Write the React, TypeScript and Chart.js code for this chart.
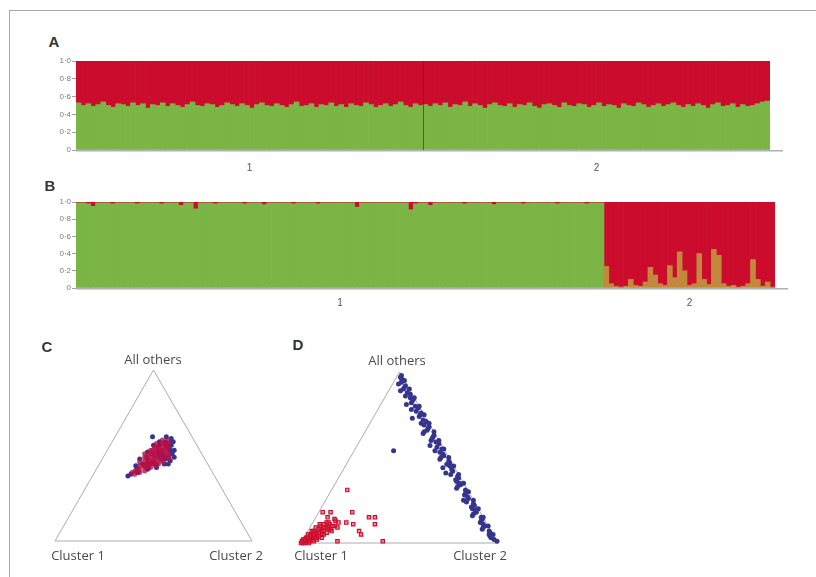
import React, { useEffect, useRef } from 'react';
import { Chart, registerables } from 'chart.js';
Chart.register(...registerables);

// ---------- DATA ----------
// Panel A: proportion of ancestry assigned to the green cluster, per individual
const A_GREEN_POP1 = [
  0.53, 0.50, 0.52, 0.49, 0.51, 0.54, 0.50, 0.48, 0.52, 0.51,
  0.49, 0.53, 0.50, 0.52, 0.47, 0.51, 0.50, 0.53, 0.49, 0.52,
  0.50, 0.48, 0.51, 0.54, 0.50, 0.49, 0.52, 0.51, 0.48, 0.50,
  0.53, 0.51, 0.49, 0.52, 0.50, 0.47, 0.51, 0.53, 0.50, 0.49,
  0.52, 0.50, 0.48, 0.51, 0.54, 0.49, 0.50, 0.52, 0.48, 0.51,
  0.50, 0.53, 0.49, 0.51, 0.48, 0.52, 0.50, 0.49, 0.53, 0.51,
  0.48, 0.50, 0.52, 0.49, 0.51, 0.54, 0.50, 0.48, 0.52, 0.50,
];
const A_GREEN_POP2 = [
  0.51, 0.49, 0.52, 0.50, 0.53, 0.48, 0.51, 0.50, 0.54, 0.49,
  0.52, 0.50, 0.47, 0.51, 0.53, 0.50, 0.49, 0.52, 0.48, 0.51,
  0.50, 0.53, 0.49, 0.47, 0.51, 0.52, 0.50, 0.48, 0.53, 0.50,
  0.49, 0.52, 0.51, 0.48, 0.50, 0.53, 0.49, 0.51, 0.50, 0.47,
  0.52, 0.50, 0.49, 0.53, 0.51, 0.48, 0.50, 0.52, 0.49, 0.51,
  0.53, 0.50, 0.48, 0.51, 0.49, 0.52, 0.50, 0.47, 0.51, 0.53,
  0.49, 0.50, 0.52, 0.48, 0.51, 0.49, 0.50, 0.52, 0.54, 0.55,
];
// Panel B
const B_GREEN_POP1 = [
  0.99, 0.99, 0.98, 0.95, 0.99, 0.99, 0.99, 0.98, 0.99,
  0.99, 0.99, 0.99, 0.98, 0.99, 0.99, 0.99, 0.99, 0.98,
  0.99, 0.99, 0.99, 0.96, 0.99, 0.99, 0.92, 0.99, 0.99,
  0.99, 0.98, 0.99, 0.99, 0.99, 0.99, 0.99, 0.98, 0.99,
  0.99, 0.99, 0.97, 0.99, 0.99, 0.99, 0.99, 0.99, 0.98,
  0.99, 0.99, 0.99, 0.99, 0.98, 0.99, 0.99, 0.99, 0.99,
  0.99, 0.99, 0.99, 0.94, 0.99, 0.99, 0.99, 0.99, 0.99,
  0.99, 0.99, 0.99, 0.99, 0.99, 0.91, 0.98, 0.99, 0.99,
  0.96, 0.99, 0.99, 0.99, 0.99, 0.99, 0.99, 0.98, 0.99,
  0.99, 0.99, 0.99, 0.99, 0.97, 0.99, 0.99, 0.99, 0.99,
  0.99, 0.98, 0.99, 0.99, 0.99, 0.99, 0.99, 0.99, 0.98,
  0.99, 0.99, 0.99, 0.99, 0.99, 0.98, 0.99, 0.99, 0.99,
];
const B_GREEN_POP2 = [
  0.25, 0.05, 0.02, 0.01, 0.02, 0.10, 0.03, 0.02, 0.07, 0.24,
  0.15, 0.05, 0.03, 0.26, 0.12, 0.42, 0.20, 0.03, 0.05, 0.40,
  0.10, 0.04, 0.45, 0.38, 0.05, 0.02, 0.03, 0.01, 0.02, 0.05,
  0.33, 0.10, 0.02, 0.07, 0.01,
];
const POP_LABELS = ['1', '2'];
const Y_TICKS = [0, 0.2, 0.4, 0.6, 0.8, 1.0];

// Panels C and D: [Cluster 2 proportion, All others proportion]
const C_RED = [
  [0.20, 0.41], [0.22, 0.42], [0.24, 0.43], [0.21, 0.44], [0.23, 0.45], [0.26, 0.45], [0.28, 0.46], [0.22, 0.47], [0.25, 0.47], [0.30, 0.47],
  [0.21, 0.49], [0.24, 0.49], [0.27, 0.49], [0.31, 0.49], [0.23, 0.51], [0.26, 0.51], [0.29, 0.51], [0.33, 0.50], [0.22, 0.53], [0.25, 0.53],
  [0.28, 0.53], [0.31, 0.52], [0.24, 0.55], [0.27, 0.55], [0.30, 0.55], [0.23, 0.57], [0.26, 0.57], [0.29, 0.57], [0.25, 0.59], [0.28, 0.59],
  [0.19, 0.40], [0.21, 0.39], [0.23, 0.40], [0.25, 0.41], [0.20, 0.46], [0.27, 0.43], [0.29, 0.44], [0.32, 0.46], [0.20, 0.51], [0.34, 0.48],
  [0.24, 0.46], [0.26, 0.48], [0.28, 0.48], [0.25, 0.50], [0.27, 0.52], [0.24, 0.52], [0.29, 0.54], [0.26, 0.54], [0.28, 0.56], [0.22, 0.50],
  [0.23, 0.44], [0.25, 0.44], [0.27, 0.45], [0.22, 0.49], [0.26, 0.49], [0.29, 0.49], [0.24, 0.51], [0.28, 0.51], [0.30, 0.52], [0.23, 0.53],
  [0.27, 0.53], [0.25, 0.55], [0.29, 0.55], [0.27, 0.57], [0.21, 0.42], [0.24, 0.47], [0.32, 0.50], [0.30, 0.45], [0.26, 0.43], [0.23, 0.55],
];
const C_BLUE = [
  [0.18, 0.38], [0.19, 0.39], [0.22, 0.40], [0.26, 0.42], [0.30, 0.43], [0.33, 0.45], [0.35, 0.47], [0.36, 0.49], [0.34, 0.51], [0.32, 0.53],
  [0.31, 0.56], [0.30, 0.58], [0.29, 0.60], [0.26, 0.61], [0.31, 0.58], [0.22, 0.56], [0.21, 0.52], [0.19, 0.48], [0.19, 0.44], [0.19, 0.61],
  [0.27, 0.46], [0.30, 0.50], [0.28, 0.52], [0.25, 0.56], [0.32, 0.48], [0.23, 0.48], [0.27, 0.58], [0.33, 0.52], [0.24, 0.44], [0.29, 0.45],
  [0.31, 0.54], [0.28, 0.50], [0.26, 0.53], [0.35, 0.45], [0.22, 0.45],
  [0.21, 0.41], [0.25, 0.45], [0.30, 0.48], [0.27, 0.51], [0.29, 0.56], [0.24, 0.58], [0.33, 0.49], [0.20, 0.43], [0.34, 0.53], [0.28, 0.57],
];
const D_RED = [
  [0.01, 0.01], [0.02, 0.02], [0.03, 0.01], [0.01, 0.03], [0.04, 0.03], [0.02, 0.05], [0.05, 0.02], [0.03, 0.04], [0.06, 0.04], [0.04, 0.06],
  [0.07, 0.02], [0.02, 0.07], [0.05, 0.06], [0.08, 0.05], [0.06, 0.08], [0.03, 0.09], [0.09, 0.03], [0.07, 0.07], [0.10, 0.06], [0.08, 0.09],
  [0.11, 0.08], [0.05, 0.10], [0.12, 0.10], [0.09, 0.11], [0.02, 0.00], [0.04, 0.00], [0.06, 0.01], [0.00, 0.02], [0.01, 0.05], [0.03, 0.06],
  [0.13, 0.12], [0.11, 0.13], [0.07, 0.12], [0.14, 0.09],
  [0.00, 0.00], [0.01, 0.00], [0.00, 0.01], [0.02, 0.01], [0.01, 0.02], [0.03, 0.02], [0.02, 0.03], [0.04, 0.01], [0.05, 0.04], [0.06, 0.03],
  [0.04, 0.05], [0.07, 0.04], [0.03, 0.07], [0.06, 0.06], [0.08, 0.07], [0.09, 0.05], [0.10, 0.08], [0.05, 0.08], [0.07, 0.09], [0.09, 0.09],
  [0.11, 0.10], [0.12, 0.07], [0.04, 0.11], [0.06, 0.11],
  [0.08, 0.31], [0.02, 0.18], [0.06, 0.18], [0.17, 0.18], [0.27, 0.15], [0.30, 0.15], [0.17, 0.12], [0.21, 0.11], [0.32, 0.11], [0.26, 0.07],
  [0.28, 0.05], [0.18, 0.01], [0.41, 0.01], [0.08, 0.12], [0.10, 0.14], [0.06, 0.15],
];
const D_BLUE = [
  [0.03, 0.96], [0.04, 0.94], [0.07, 0.92], [0.07, 0.90], [0.10, 0.88], [0.10, 0.86], [0.15, 0.84], [0.15, 0.82], [0.18, 0.80], [0.17, 0.78],
  [0.23, 0.76], [0.23, 0.74], [0.26, 0.72], [0.26, 0.70], [0.31, 0.68], [0.31, 0.66], [0.30, 0.64], [0.36, 0.62], [0.36, 0.60], [0.41, 0.58],
  [0.41, 0.56], [0.41, 0.54], [0.46, 0.52], [0.46, 0.50], [0.51, 0.48], [0.51, 0.46], [0.50, 0.44], [0.56, 0.42], [0.56, 0.40], [0.61, 0.38],
  [0.61, 0.36], [0.64, 0.34], [0.63, 0.32], [0.69, 0.30], [0.69, 0.28], [0.72, 0.26], [0.72, 0.24], [0.77, 0.22], [0.77, 0.20], [0.80, 0.18],
  [0.79, 0.16], [0.85, 0.14], [0.85, 0.12], [0.88, 0.10], [0.88, 0.08], [0.93, 0.06], [0.94, 0.04], [0.97, 0.02],
  [0.05, 0.95], [0.07, 0.91], [0.12, 0.87], [0.15, 0.83], [0.20, 0.79], [0.23, 0.75], [0.28, 0.71], [0.31, 0.67], [0.36, 0.63], [0.39, 0.59],
  [0.44, 0.55], [0.47, 0.51], [0.52, 0.47], [0.55, 0.43], [0.60, 0.39], [0.63, 0.35], [0.68, 0.31], [0.71, 0.27], [0.76, 0.23], [0.79, 0.19],
  [0.84, 0.15], [0.87, 0.11], [0.92, 0.07], [0.95, 0.03],
  [0.03, 0.93], [0.06, 0.89], [0.13, 0.85], [0.13, 0.81], [0.20, 0.77], [0.20, 0.73], [0.28, 0.69], [0.30, 0.65], [0.36, 0.61], [0.37, 0.57],
  [0.44, 0.53], [0.46, 0.49], [0.53, 0.45], [0.53, 0.41], [0.60, 0.37], [0.63, 0.33], [0.69, 0.29], [0.70, 0.25], [0.76, 0.21], [0.79, 0.17],
  [0.85, 0.13], [0.88, 0.09], [0.93, 0.05], [0.02, 0.97], [0.02, 0.98], [0.99, 0.01],
  [0.10, 0.90], [0.20, 0.80], [0.30, 0.70], [0.40, 0.60], [0.50, 0.50], [0.60, 0.40], [0.70, 0.30], [0.80, 0.20], [0.90, 0.10],
  [0.15, 0.85], [0.25, 0.75], [0.35, 0.65], [0.45, 0.55], [0.55, 0.45], [0.65, 0.35], [0.75, 0.25], [0.85, 0.15], [0.95, 0.05],
  [0.20, 0.54],
];

// ---------- STYLE ----------
const GREEN = '#7ab545';
const RED = '#cb0c2d';
const MIXED = '#c2893d';
const BLUE = '#35358f';
const SANS = '"Liberation Sans", Arial, sans-serif';
const SQ = Math.sqrt(3) / 2;

const fmtTick = (v: number) => (v === 0 ? '0' : v.toFixed(1).replace('.', '·'));

function StructurePlot(props: {
  left: number; top: number; width: number; height: number;
  pop1: number[]; pop2: number[];
  padTop: number; padRight: number; axisHeight: number; labelPad: number;
  divider: boolean; mixPop2: boolean;
}) {
  const ref = useRef<HTMLCanvasElement>(null);
  useEffect(() => {
    const { pop1, pop2 } = props;
    const n1 = pop1.length;
    const n = n1 + pop2.length;
    const green = [...pop1, ...pop2];
    const centers = [n1 / 2, n1 + pop2.length / 2];
    const baseLine = {
      id: 'baseLine',
      afterDatasetsDraw(chart: any) {
        const { ctx, chartArea } = chart;
        ctx.save();
        if (props.divider) {
          const x = Math.round(chart.scales.x.getPixelForValue(n1)) + 0.5;
          ctx.strokeStyle = 'rgba(40,50,25,0.6)';
          ctx.lineWidth = 1;
          ctx.beginPath();
          ctx.moveTo(x, chartArea.top);
          ctx.lineTo(x, chartArea.bottom);
          ctx.stroke();
        }
        ctx.strokeStyle = '#b0b0b0';
        ctx.lineWidth = 1.5;
        ctx.beginPath();
        ctx.moveTo(chartArea.left, chartArea.bottom + 0.75);
        ctx.lineTo(chartArea.right + 13, chartArea.bottom + 0.75);
        ctx.stroke();
        ctx.restore();
      },
    };
    const chart = new Chart(ref.current!, {
      type: 'bar',
      data: {
        datasets: [
          {
            data: green.map((v, i) => ({ x: i + 0.5, y: v })),
            backgroundColor: green.map((_, i) => (props.mixPop2 && i >= n1 ? MIXED : GREEN)),
            borderWidth: 0,
            barPercentage: 1,
            categoryPercentage: 1,
          },
          {
            data: green.map((v, i) => ({ x: i + 0.5, y: +(1 - v).toFixed(3) })),
            backgroundColor: RED,
            borderWidth: 0,
            barPercentage: 1,
            categoryPercentage: 1,
          },
        ],
      } as any,
      options: {
        animation: false,
        responsive: false,
        maintainAspectRatio: false,
        layout: { padding: { top: props.padTop, right: props.padRight, left: 0, bottom: 0 } },
        plugins: { legend: { display: false }, tooltip: { enabled: false } },
        scales: {
          x: {
            type: 'linear',
            stacked: true,
            offset: false,
            min: 0,
            max: n,
            grid: { display: false },
            border: { display: false },
            afterBuildTicks: (s: any) => { s.ticks = centers.map((v) => ({ value: v })); },
            afterFit: (s: any) => { s.height = props.axisHeight; },
            ticks: {
              padding: props.labelPad,
              autoSkip: false,
              maxRotation: 0,
              color: '#555',
              font: { size: 10, family: SANS },
              callback: (_v: any, i: number) => POP_LABELS[i] ?? '',
            },
          },
          y: {
            stacked: true,
            min: 0,
            max: 1,
            afterFit: (s: any) => { s.width = 36; },
            afterBuildTicks: (s: any) => { s.ticks = Y_TICKS.map((v) => ({ value: v })); },
            ticks: { padding: 1, color: '#7a7a7a', font: { size: 8, family: SANS }, callback: (v: any) => fmtTick(+v) },
            grid: { drawOnChartArea: false, drawTicks: true, tickLength: 4, color: '#a0a0a0' },
            border: { display: false },
          },
        },
      } as any,
      plugins: [baseLine],
    });
    return () => chart.destroy();
  }, []);
  return (
    <canvas
      ref={ref}
      width={props.width}
      height={props.height}
      style={{ position: 'absolute', left: props.left, top: props.top, width: props.width, height: props.height }}
    />
  );
}

function Ternary(props: { left: number; top: number; red: number[][]; blue: number[][]; openRed: boolean }) {
  const ref = useRef<HTMLCanvasElement>(null);
  useEffect(() => {
    const toXY = (p: number[]) => ({ x: p[0] + p[1] / 2, y: p[1] * SQ });
    const tri = [{ x: 0, y: 0 }, { x: 1, y: 0 }, { x: 0.5, y: SQ }, { x: 0, y: 0 }];
    const chart = new Chart(ref.current!, {
      type: 'scatter',
      data: {
        datasets: [
          props.openRed
            ? {
                data: props.red.map(toXY),
                pointStyle: 'rect',
                pointRadius: 2.4,
                borderColor: RED,
                borderWidth: 1.1,
                backgroundColor: 'rgba(215,40,60,0.5)',
                clip: false,
              }
            : {
                data: props.red.map(toXY),
                pointRadius: 2.5,
                borderWidth: 0,
                backgroundColor: 'rgba(185,15,70,0.8)',
                clip: false,
              },
          {
            data: props.blue.map(toXY),
            pointRadius: 2.5,
            borderWidth: 0,
            backgroundColor: BLUE,
            clip: false,
          },
          {
            data: tri,
            showLine: true,
            pointRadius: 0,
            borderColor: '#acacac',
            borderWidth: 1,
            fill: false,
            clip: false,
          },
        ],
      } as any,
      options: {
        animation: false,
        responsive: false,
        maintainAspectRatio: false,
        layout: { padding: 10 },
        plugins: { legend: { display: false }, tooltip: { enabled: false } },
        scales: {
          x: { type: 'linear', display: false, min: 0, max: 1 },
          y: { type: 'linear', display: false, min: 0, max: SQ },
        },
      } as any,
    });
    return () => chart.destroy();
  }, []);
  return (
    <canvas
      ref={ref}
      width={217}
      height={191}
      style={{ position: 'absolute', left: props.left, top: props.top, width: 217, height: 191 }}
    />
  );
}

const Label = (p: { x: number; y: number; text: string; bold?: boolean; size: number; family: string; color: string }) => (
  <div
    style={{
      position: 'absolute',
      left: p.x,
      top: p.y,
      transform: 'translate(-50%, -50%)',
      whiteSpace: 'nowrap',
      fontFamily: p.family,
      fontWeight: p.bold ? 700 : 400,
      fontSize: p.size,
      color: p.color,
      lineHeight: 1,
    }}
  >
    {p.text}
  </div>
);

export default function App() {
  const OS = '"Open Sans", "Liberation Sans", sans-serif';
  return (
    <div style={{ position: 'fixed', left: 0, top: 0, width: 816, height: 577, background: '#fff', overflow: 'hidden' }}>
      <div style={{ position: 'absolute', left: 9, top: 10, width: 807, height: 1, background: '#a8a8a8' }} />
      <div style={{ position: 'absolute', left: 9, top: 10, width: 1, height: 567, background: '#a8a8a8' }} />

      <StructurePlot left={40} top={50} width={760} height={125} pop1={A_GREEN_POP1} pop2={A_GREEN_POP2}
        padTop={11} padRight={30} axisHeight={25} labelPad={4} divider={true} mixPop2={false} />
      <StructurePlot left={40} top={190} width={760} height={125} pop1={B_GREEN_POP1} pop2={B_GREEN_POP2}
        padTop={12} padRight={25} axisHeight={27} labelPad={1} divider={false} mixPop2={true} />

      <Ternary left={45} top={360} red={C_RED} blue={C_BLUE} openRed={false} />
      <Ternary left={291} top={362} red={D_RED} blue={D_BLUE} openRed={true} />

      <Label x={54} y={41} text="A" bold size={15} family={SANS} color="#333" />
      <Label x={50} y={185} text="B" bold size={15} family={SANS} color="#333" />
      <Label x={47} y={346} text="C" bold size={15} family={SANS} color="#333" />
      <Label x={298} y={344} text="D" bold size={15} family={SANS} color="#333" />

      <Label x={153} y={359} text="All others" size={13} family={OS} color="#4a4a4a" />
      <Label x={78} y={555} text="Cluster 1" size={13} family={OS} color="#4a4a4a" />
      <Label x={236} y={555} text="Cluster 2" size={13} family={OS} color="#4a4a4a" />

      <Label x={397} y={360} text="All others" size={13} family={OS} color="#4a4a4a" />
      <Label x={321} y={555} text="Cluster 1" size={13} family={OS} color="#4a4a4a" />
      <Label x={480} y={555} text="Cluster 2" size={13} family={OS} color="#4a4a4a" />
    </div>
  );
}
